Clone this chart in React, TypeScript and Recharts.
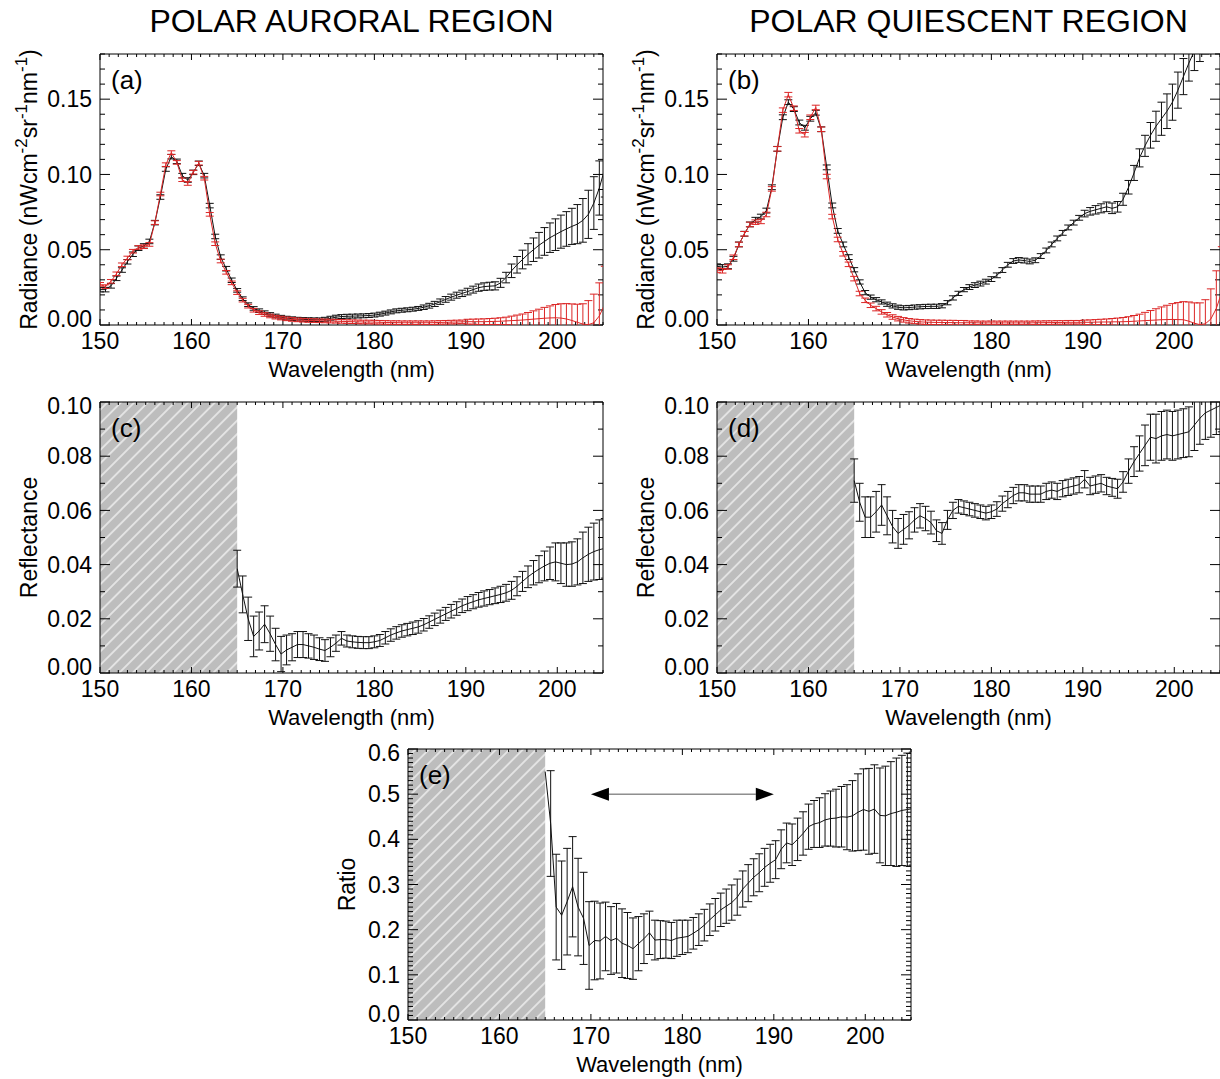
import React from 'react';
import { ComposedChart, Line, XAxis, YAxis, ErrorBar, ReferenceArea, ReferenceLine } from 'recharts';

const FONT = '"Liberation Sans", Arial, Helvetica, sans-serif';

// ---------------- data ----------------
const WAVELENGTHS = [
  150.0, 150.6, 151.2, 151.8, 152.4, 153.0, 153.6, 154.2, 154.8, 155.4,
  156.0, 156.6, 157.2, 157.8, 158.4, 159.0, 159.6, 160.2, 160.8, 161.4,
  162.0, 162.6, 163.2, 163.8, 164.4, 165.0, 165.6, 166.2, 166.8, 167.4,
  168.0, 168.6, 169.2, 169.8, 170.4, 171.0, 171.6, 172.2, 172.8, 173.4,
  174.0, 174.6, 175.2, 175.8, 176.4, 177.0, 177.6, 178.2, 178.8, 179.4,
  180.0, 180.6, 181.2, 181.8, 182.4, 183.0, 183.6, 184.2, 184.8, 185.4,
  186.0, 186.6, 187.2, 187.8, 188.4, 189.0, 189.6, 190.2, 190.8, 191.4,
  192.0, 192.6, 193.2, 193.8, 194.4, 195.0, 195.6, 196.2, 196.8, 197.4,
  198.0, 198.6, 199.2, 199.8, 200.4, 201.0, 201.6, 202.2, 202.8, 203.4,
  204.0, 204.6, 205.2,
];

// (a) polar auroral radiance
const AURORAL_BLACK = [
  0.0235, 0.0235, 0.026, 0.031, 0.0365, 0.042, 0.047, 0.051, 0.0525, 0.0555,
  0.068, 0.085, 0.1036, 0.1118, 0.1087, 0.0992, 0.0963, 0.1014, 0.1074, 0.0992,
  0.0793, 0.0588, 0.0451, 0.0374, 0.0297, 0.023, 0.0175, 0.0135, 0.011, 0.0095,
  0.0082, 0.007, 0.006, 0.0052, 0.0046, 0.0042, 0.0039, 0.0037, 0.0036, 0.0035,
  0.0035, 0.0038, 0.0045, 0.0052, 0.0056, 0.0058, 0.0059, 0.006, 0.0061, 0.0063,
  0.0066, 0.0072, 0.0079, 0.0087, 0.0094, 0.0098, 0.0101, 0.0105, 0.011, 0.0118,
  0.0128, 0.014, 0.0155, 0.017, 0.0185, 0.0198, 0.021, 0.0222, 0.0235, 0.0248,
  0.0255, 0.0258, 0.026, 0.028, 0.0315, 0.036, 0.040, 0.0435, 0.047, 0.050,
  0.053, 0.0555, 0.058, 0.060, 0.062, 0.0638, 0.0655, 0.067, 0.0695, 0.0735,
  0.081, 0.091, 0.104,
];
const AURORAL_BLACK_ERR = [
  0.0015, 0.0015, 0.0015, 0.0015, 0.0015, 0.0015, 0.0015, 0.0015, 0.0015, 0.0015,
  0.0015, 0.0015, 0.0015, 0.0015, 0.0015, 0.0015, 0.0015, 0.0015, 0.0015, 0.0015,
  0.0015, 0.0015, 0.0015, 0.0015, 0.0015, 0.0012, 0.0012, 0.0012, 0.0012, 0.0012,
  0.0012, 0.0012, 0.0012, 0.0012, 0.0012, 0.0012, 0.0012, 0.0012, 0.0012, 0.0012,
  0.0012, 0.0013, 0.0013, 0.0013, 0.0013, 0.0013, 0.0013, 0.0013, 0.0013, 0.0013,
  0.0013, 0.0013, 0.0013, 0.0013, 0.0013, 0.0013, 0.0013, 0.0013, 0.0013, 0.0015,
  0.0016, 0.0017, 0.0018, 0.0019, 0.002, 0.002, 0.0021, 0.0022, 0.0023, 0.0024,
  0.0025, 0.0026, 0.0027, 0.003, 0.0035, 0.0045, 0.0055, 0.0062, 0.007, 0.0078,
  0.0085, 0.0092, 0.0098, 0.0105, 0.011, 0.0115, 0.012, 0.013, 0.0145, 0.016,
  0.0175, 0.018, 0.019,
];
const AURORAL_RED = [
  0.027, 0.0255, 0.029, 0.034, 0.040, 0.0445, 0.049, 0.0515, 0.052, 0.0535,
  0.068, 0.087, 0.1065, 0.1145, 0.108, 0.0965, 0.094, 0.1015, 0.1075, 0.0975,
  0.0735, 0.054, 0.0425, 0.035, 0.028, 0.0215, 0.0165, 0.0125, 0.0098, 0.0082,
  0.007, 0.006, 0.0052, 0.0046, 0.0041, 0.0037, 0.0034, 0.0032, 0.003, 0.0029,
  0.0028, 0.0027, 0.0026, 0.0025, 0.0024, 0.0023, 0.0022, 0.0021, 0.002, 0.002,
  0.0019, 0.0018, 0.0017, 0.0016, 0.0016, 0.0015, 0.0015, 0.0015, 0.0015, 0.0015,
  0.0015, 0.0016, 0.0017, 0.0018, 0.0019, 0.002, 0.0021, 0.0022, 0.0022, 0.0022,
  0.0022, 0.0023, 0.0024, 0.0025, 0.0027, 0.0029, 0.0031, 0.0033, 0.0036, 0.0039,
  0.0042, 0.0045, 0.0047, 0.0048, 0.0046, 0.004, 0.003, 0.0018, 0.0006, 0.0002,
  0.0015, 0.006, 0.014,
];
const AURORAL_RED_ERR = [
  0.0012, 0.0012, 0.0012, 0.0012, 0.0012, 0.0012, 0.0012, 0.0012, 0.0012, 0.0012,
  0.0012, 0.0012, 0.0012, 0.0012, 0.0012, 0.0012, 0.0012, 0.0012, 0.0012, 0.0012,
  0.0012, 0.0012, 0.0012, 0.0012, 0.0012, 0.0012, 0.0012, 0.0012, 0.0012, 0.0012,
  0.0012, 0.0012, 0.0012, 0.0012, 0.0012, 0.0012, 0.0012, 0.0012, 0.0012, 0.0012,
  0.0012, 0.0012, 0.0012, 0.0012, 0.0012, 0.0012, 0.0012, 0.0012, 0.0012, 0.0012,
  0.0012, 0.0012, 0.0012, 0.0012, 0.0012, 0.0012, 0.0012, 0.0012, 0.0012, 0.0012,
  0.0012, 0.0012, 0.0012, 0.0012, 0.0012, 0.0012, 0.0012, 0.0016, 0.0017, 0.0018,
  0.0019, 0.002, 0.0021, 0.0023, 0.0025, 0.003, 0.0035, 0.004, 0.0047, 0.0055,
  0.0063, 0.0072, 0.008, 0.0088, 0.0095, 0.0102, 0.011, 0.012, 0.0135, 0.016,
  0.019, 0.022, 0.025,
];

// (b) polar quiescent radiance
const QUIESCENT_BLACK = [
  0.039, 0.0385, 0.039, 0.044, 0.0535, 0.0606, 0.0668, 0.0699, 0.072, 0.076,
  0.0915, 0.117, 0.138, 0.148, 0.1434, 0.1345, 0.131, 0.137, 0.141, 0.130,
  0.1047, 0.0794, 0.0625, 0.0535, 0.0451, 0.0367, 0.0286, 0.0215, 0.0185, 0.0168,
  0.0153, 0.0138, 0.0127, 0.0118, 0.0114, 0.0116, 0.0119, 0.0121, 0.0123, 0.0124,
  0.0124, 0.0128, 0.0148, 0.018, 0.021, 0.0235, 0.0252, 0.0265, 0.0275, 0.0288,
  0.0305, 0.033, 0.0365, 0.040, 0.0425, 0.0432, 0.0428, 0.0422, 0.043, 0.0458,
  0.0495, 0.0535, 0.0575, 0.0612, 0.0648, 0.068, 0.0712, 0.074, 0.0755, 0.0765,
  0.0775, 0.0785, 0.0775, 0.0785, 0.0835, 0.0915, 0.101, 0.111, 0.119, 0.126,
  0.132, 0.137, 0.142, 0.148, 0.156, 0.165, 0.174, 0.182, 0.189, 0.195,
  0.2, 0.205, 0.21,
];
const QUIESCENT_BLACK_ERR = [
  0.0016, 0.0016, 0.0016, 0.0016, 0.0016, 0.0016, 0.0016, 0.0016, 0.0016, 0.0016,
  0.0016, 0.0016, 0.0016, 0.0016, 0.0016, 0.0016, 0.0016, 0.0016, 0.0016, 0.0016,
  0.0016, 0.0016, 0.0016, 0.0016, 0.0016, 0.0014, 0.0014, 0.0014, 0.0014, 0.0014,
  0.0014, 0.0014, 0.0014, 0.0014, 0.0014, 0.0014, 0.0014, 0.0014, 0.0014, 0.0014,
  0.0014, 0.0014, 0.0014, 0.0014, 0.0014, 0.0014, 0.0016, 0.0016, 0.0016, 0.0016,
  0.0016, 0.0016, 0.0016, 0.0016, 0.0016, 0.0016, 0.0016, 0.0016, 0.0016, 0.0016,
  0.0016, 0.0016, 0.0016, 0.0016, 0.0016, 0.0016, 0.0016, 0.0022, 0.0025, 0.0028,
  0.003, 0.0032, 0.0035, 0.0035, 0.004, 0.0045, 0.005, 0.006, 0.007, 0.0085,
  0.010, 0.011, 0.0115, 0.012, 0.012, 0.012, 0.012, 0.013, 0.014, 0.015,
  0.016, 0.017, 0.018,
];
const QUIESCENT_RED = [
  0.0365, 0.036, 0.0385, 0.045, 0.0535, 0.0606, 0.0668, 0.0683, 0.0688, 0.0734,
  0.0904, 0.117, 0.1427, 0.153, 0.144, 0.129, 0.1264, 0.138, 0.1445, 0.130,
  0.0986, 0.072, 0.0568, 0.0473, 0.0403, 0.0308, 0.0209, 0.0164, 0.0131, 0.0109,
  0.0087, 0.0068, 0.0053, 0.0042, 0.0034, 0.0028, 0.0024, 0.0021, 0.0019, 0.0018,
  0.0017, 0.0017, 0.0016, 0.0016, 0.0015, 0.0015, 0.0015, 0.0015, 0.0014, 0.0014,
  0.0014, 0.0014, 0.0014, 0.0014, 0.0014, 0.0014, 0.0014, 0.0014, 0.0015, 0.0015,
  0.0016, 0.0016, 0.0017, 0.0017, 0.0018, 0.0018, 0.0018, 0.0018, 0.0018, 0.0019,
  0.002, 0.002, 0.0021, 0.0021, 0.0022, 0.0023, 0.0025, 0.0027, 0.0029, 0.0031,
  0.0033, 0.0035, 0.0036, 0.0037, 0.0036, 0.0035, 0.0025, 0.0012, 0.0002, 0.0008,
  0.004, 0.011, 0.022,
];
const QUIESCENT_RED_ERR = [
  0.0015, 0.0015, 0.0015, 0.0015, 0.0015, 0.0015, 0.0015, 0.0015, 0.0015, 0.0015,
  0.0015, 0.0015, 0.0015, 0.0015, 0.0015, 0.0015, 0.0015, 0.0015, 0.0015, 0.0015,
  0.0015, 0.0015, 0.0015, 0.0015, 0.0015, 0.0015, 0.0015, 0.0015, 0.0015, 0.0015,
  0.0015, 0.0015, 0.0015, 0.0015, 0.0015, 0.0015, 0.0015, 0.0015, 0.0015, 0.0015,
  0.0015, 0.0015, 0.0015, 0.0015, 0.0015, 0.0015, 0.0012, 0.0012, 0.0012, 0.0012,
  0.0012, 0.0012, 0.0012, 0.0012, 0.0012, 0.0012, 0.0012, 0.0012, 0.0012, 0.0012,
  0.0012, 0.0012, 0.0012, 0.0012, 0.0012, 0.0012, 0.0012, 0.0015, 0.0016, 0.0017,
  0.0018, 0.002, 0.0022, 0.0025, 0.0028, 0.0032, 0.0038, 0.0045, 0.0055, 0.0065,
  0.0075, 0.0085, 0.0095, 0.0105, 0.0113, 0.012, 0.0128, 0.0135, 0.0145, 0.016,
  0.02, 0.025, 0.03,
];

// (c)-(e) start at 165.0 nm
const REFL_WAVELENGTHS = WAVELENGTHS.slice(25);
const AURORAL_REFL = [
  0.0385, 0.029, 0.020, 0.0135, 0.0155, 0.018, 0.0145, 0.0105, 0.007, 0.0085,
  0.0095, 0.0105, 0.0105, 0.010, 0.0095, 0.0088, 0.0083, 0.0095, 0.011, 0.0128,
  0.0118, 0.0115, 0.0113, 0.0112, 0.0112, 0.0115, 0.012, 0.013, 0.014, 0.0148,
  0.0155, 0.016, 0.0165, 0.017, 0.0178, 0.0188, 0.0198, 0.0208, 0.0218, 0.0228,
  0.0238, 0.0248, 0.0256, 0.0263, 0.027, 0.0275, 0.028, 0.0285, 0.029, 0.0296,
  0.0305, 0.032, 0.0338, 0.0355, 0.037, 0.0383, 0.0395, 0.0405, 0.041, 0.0405,
  0.040, 0.0402, 0.041, 0.0425, 0.0438, 0.0448, 0.0455, 0.046,
];
const AURORAL_REFL_ERR = [
  0.0068, 0.0068, 0.008, 0.0075, 0.007, 0.0068, 0.0065, 0.006, 0.0065, 0.0055,
  0.005, 0.0048, 0.0048, 0.0045, 0.0045, 0.0042, 0.004, 0.0035, 0.003, 0.0025,
  0.0022, 0.0022, 0.0022, 0.0022, 0.0022, 0.0022, 0.0022, 0.0023, 0.0023, 0.0023,
  0.0023, 0.0023, 0.0023, 0.0023, 0.0023, 0.0023, 0.0023, 0.0024, 0.0024, 0.0025,
  0.0025, 0.0025, 0.0026, 0.0026, 0.0027, 0.0028, 0.0028, 0.0029, 0.003, 0.0031,
  0.0033, 0.0035, 0.0037, 0.004, 0.0045, 0.005, 0.0055, 0.006, 0.007, 0.0075,
  0.008, 0.0082, 0.0085, 0.0095, 0.010, 0.0105, 0.011, 0.011,
];
const QUIESCENT_REFL = [
  0.071, 0.063, 0.0575, 0.0575, 0.0595, 0.062, 0.058, 0.054, 0.0515, 0.053,
  0.0545, 0.0565, 0.058, 0.057, 0.0555, 0.0525, 0.0515, 0.0565, 0.060, 0.0615,
  0.061, 0.0605, 0.060, 0.0595, 0.059, 0.0595, 0.0605, 0.0625, 0.064, 0.0655,
  0.0665, 0.0665, 0.066, 0.066, 0.066, 0.067, 0.0675, 0.067, 0.068, 0.0685,
  0.069, 0.0695, 0.0715, 0.069, 0.0695, 0.070, 0.069, 0.0685, 0.068, 0.0705,
  0.0745, 0.078, 0.081, 0.084, 0.087, 0.0865, 0.0875, 0.088, 0.0875, 0.088,
  0.0885, 0.089, 0.0915, 0.094, 0.096, 0.097, 0.098, 0.099,
];
const QUIESCENT_REFL_ERR = [
  0.008, 0.007, 0.0075, 0.0075, 0.0075, 0.0075, 0.007, 0.006, 0.0055, 0.0055,
  0.005, 0.0045, 0.0045, 0.0045, 0.0042, 0.004, 0.004, 0.0035, 0.003, 0.0025,
  0.0025, 0.0025, 0.0025, 0.0025, 0.0025, 0.0025, 0.0027, 0.0028, 0.003, 0.003,
  0.003, 0.003, 0.003, 0.003, 0.003, 0.003, 0.003, 0.003, 0.003, 0.003,
  0.003, 0.003, 0.0032, 0.0032, 0.0032, 0.0032, 0.0032, 0.0033, 0.0035, 0.0038,
  0.0045, 0.0055, 0.0065, 0.0075, 0.0085, 0.009, 0.009, 0.009, 0.009, 0.009,
  0.009, 0.0092, 0.0094, 0.0096, 0.0098, 0.01, 0.01, 0.01,
];
const RATIO = [
  0.55, 0.435, 0.25, 0.232, 0.262, 0.295, 0.25, 0.225, 0.165, 0.176,
  0.175, 0.185, 0.176, 0.181, 0.17, 0.165, 0.158, 0.169, 0.18, 0.193,
  0.177, 0.178, 0.178, 0.176, 0.181, 0.183, 0.185, 0.192, 0.2, 0.21,
  0.222, 0.233, 0.244, 0.252, 0.26, 0.272, 0.29, 0.303, 0.316, 0.326,
  0.338, 0.347, 0.355, 0.378, 0.392, 0.388, 0.4, 0.413, 0.428, 0.434,
  0.437, 0.443, 0.446, 0.447, 0.45, 0.449, 0.452, 0.46, 0.466, 0.462,
  0.467, 0.453, 0.452, 0.457, 0.46, 0.464, 0.466, 0.468,
];
const RATIO_ERR = [
  0, 0.117, 0.117, 0.12, 0.118, 0.111, 0.108, 0.102, 0.097, 0.087,
  0.084, 0.076, 0.075, 0.077, 0.076, 0.073, 0.068, 0.06, 0.055, 0.048,
  0.044, 0.042, 0.041, 0.04, 0.04, 0.038, 0.036, 0.035, 0.035, 0.035,
  0.035, 0.036, 0.037, 0.038, 0.039, 0.04, 0.04, 0.041, 0.041, 0.042,
  0.042, 0.042, 0.042, 0.043, 0.044, 0.046, 0.047, 0.048, 0.05, 0.052,
  0.055, 0.058, 0.061, 0.064, 0.067, 0.072, 0.078, 0.085, 0.09, 0.095,
  0.098, 0.105, 0.11, 0.115, 0.12, 0.122, 0.125, 0.125,
];

// ticks
const X_MAJOR = [150, 160, 170, 180, 190, 200];
const X_TICKS = [
  150, 151, 152, 153, 154, 155, 156, 157, 158, 159, 160, 161, 162, 163, 164, 165, 166, 167, 168, 169,
  170, 171, 172, 173, 174, 175, 176, 177, 178, 179, 180, 181, 182, 183, 184, 185, 186, 187, 188, 189,
  190, 191, 192, 193, 194, 195, 196, 197, 198, 199, 200, 201, 202, 203, 204, 205,
];
const RAD_MAJOR = [0, 0.05, 0.1, 0.15];
const RAD_TICKS = [0, 0.01, 0.02, 0.03, 0.04, 0.05, 0.06, 0.07, 0.08, 0.09, 0.1, 0.11, 0.12, 0.13, 0.14, 0.15, 0.16, 0.17, 0.18];
const REFL_MAJOR = [0, 0.02, 0.04, 0.06, 0.08, 0.1];
const REFL_TICKS = [0, 0.01, 0.02, 0.03, 0.04, 0.05, 0.06, 0.07, 0.08, 0.09, 0.1];
const RATIO_MAJOR = [0, 0.1, 0.2, 0.3, 0.4, 0.5, 0.6];
const RATIO_TICKS = [
  0, 0.01, 0.02, 0.03, 0.04, 0.05, 0.06, 0.07, 0.08, 0.09, 0.1, 0.11, 0.12, 0.13, 0.14, 0.15, 0.16, 0.17, 0.18, 0.19, 0.2,
  0.21, 0.22, 0.23, 0.24, 0.25, 0.26, 0.27, 0.28, 0.29, 0.3, 0.31, 0.32, 0.33, 0.34, 0.35, 0.36, 0.37, 0.38, 0.39, 0.4,
  0.41, 0.42, 0.43, 0.44, 0.45, 0.46, 0.47, 0.48, 0.49, 0.5, 0.51, 0.52, 0.53, 0.54, 0.55, 0.56, 0.57, 0.58, 0.59, 0.6,
];
const ARROW_RANGE = [170, 190];
const ARROW_LEVEL = 0.5;
const HATCH_RANGE = [150, 165];

// tables
const RAD_ROWS = WAVELENGTHS.map((w, i) => ({
  w,
  ab: AURORAL_BLACK[i], abe: AURORAL_BLACK_ERR[i],
  ar: AURORAL_RED[i], are: AURORAL_RED_ERR[i],
  qb: QUIESCENT_BLACK[i], qbe: QUIESCENT_BLACK_ERR[i],
  qr: QUIESCENT_RED[i], qre: QUIESCENT_RED_ERR[i],
}));
const REFL_ROWS = REFL_WAVELENGTHS.map((w, i) => ({
  w,
  ca: AURORAL_REFL[i], cae: AURORAL_REFL_ERR[i],
  cq: QUIESCENT_REFL[i], cqe: QUIESCENT_REFL_ERR[i],
  r: RATIO[i], re: RATIO_ERR[i],
}));

// ---------------- layout ----------------
const PLOT_W = 503;
const PLOT_H = 271;
const M = { top: 60, left: 100, right: 20, bottom: 70 };
const BLACK = '#111';
const RED = '#dc2626';
const X_DOMAIN: [number, number] = [150, 205];
const TICK_FONT = 23;
const HATCH_STEP = 9.5;

const isIn = (v: number, arr: number[]) => arr.some((a) => Math.abs(a - v) < 1e-9);

const xBottomTick = (p: any) => {
  const v = p.payload.value;
  const major = isIn(v, X_MAJOR);
  return (
    <g>
      <line x1={p.x} x2={p.x} y1={p.y} y2={p.y - (major ? 6 : 3)} stroke="#000" strokeWidth={1} />
      {major ? (
        <text x={p.x} y={p.y + 24} textAnchor="middle" fontSize={TICK_FONT} fontFamily={FONT} fill="#000">{v}</text>
      ) : null}
    </g>
  );
};
const xTopTick = (p: any) => {
  const major = isIn(p.payload.value, X_MAJOR);
  return <line x1={p.x} x2={p.x} y1={p.y} y2={p.y + (major ? 6 : 3)} stroke="#000" strokeWidth={1} />;
};
function makeYLeftTick(major: number[], min: number, max: number, digits: number) {
  return (p: any) => {
    const v = p.payload.value;
    const isMajor = isIn(v, major);
    let shift = 0;
    if (Math.abs(v - min) < 1e-9) shift = -6;
    if (Math.abs(v - max) < 1e-9) shift = 4;
    return (
      <g>
        <line x1={p.x} x2={p.x + (isMajor ? 10 : 5)} y1={p.y} y2={p.y} stroke="#000" strokeWidth={1} />
        {isMajor ? (
          <text x={p.x - 8} y={p.y + shift} dy="0.355em" textAnchor="end" fontSize={TICK_FONT} fontFamily={FONT} fill="#000">
            {v.toFixed(digits)}
          </text>
        ) : null}
      </g>
    );
  };
}
function makeYRightTick(major: number[]) {
  return (p: any) => {
    const isMajor = isIn(p.payload.value, major);
    return <line x1={p.x} x2={p.x - (isMajor ? 10 : 5)} y1={p.y} y2={p.y} stroke="#000" strokeWidth={1} />;
  };
}

const arrowShape = (p: any) => {
  const { x1, y1, x2 } = p;
  const L = 18;
  const h = 6.5;
  return (
    <g>
      <line x1={x1 + L} y1={y1} x2={x2 - L} y2={y1} stroke="#555" strokeWidth={1} />
      <polygon points={`${x1},${y1} ${x1 + L},${y1 - h} ${x1 + L},${y1 + h}`} fill="#000" />
      <polygon points={`${x2},${y1} ${x2 - L},${y1 - h} ${x2 - L},${y1 + h}`} fill="#000" />
    </g>
  );
};

type Series = { key: string; errKey: string; color: string };
type PanelOpts = {
  id: string; plotLeft: number; plotTop: number; data: any[];
  yDomain: [number, number]; yMajor: number[]; yTicks: number[]; digits: number;
  series: Series[]; hatch?: boolean; arrow?: boolean;
};

function renderFrame(o: PanelOpts) {
  const W = M.left + PLOT_W + M.right;
  const H = M.top + PLOT_H + M.bottom;
  const margin = { top: M.top - 1, left: M.left - 1, right: M.right - 1, bottom: M.bottom - 1 };
  return (
    <div key={o.id + '-frame'} style={{ position: 'absolute', left: o.plotLeft - M.left, top: o.plotTop - M.top, width: W, height: H }}>
      <ComposedChart width={W} height={H} data={o.data} margin={margin}>
        <XAxis xAxisId="x" dataKey="w" type="number" domain={X_DOMAIN} allowDataOverflow ticks={X_TICKS} interval={0}
          tickSize={0} tickMargin={0} height={1} tickLine={false} axisLine={{ stroke: '#000' }} tick={xBottomTick} />
        <XAxis xAxisId="xt" orientation="top" dataKey="w" type="number" domain={X_DOMAIN} allowDataOverflow ticks={X_TICKS}
          interval={0} tickSize={0} tickMargin={0} height={1} tickLine={false} axisLine={{ stroke: '#000' }} tick={xTopTick} />
        <YAxis yAxisId="y" type="number" domain={o.yDomain} allowDataOverflow ticks={o.yTicks} interval={0}
          tickSize={0} tickMargin={0} width={1} tickLine={false} axisLine={{ stroke: '#000' }}
          tick={makeYLeftTick(o.yMajor, o.yDomain[0], o.yDomain[1], o.digits)} />
        <YAxis yAxisId="yr" orientation="right" type="number" domain={o.yDomain} allowDataOverflow ticks={o.yTicks} interval={0}
          tickSize={0} tickMargin={0} width={1} tickLine={false} axisLine={{ stroke: '#000' }}
          tick={makeYRightTick(o.yMajor)} />
        {o.hatch ? (
          <ReferenceArea xAxisId="x" yAxisId="y" x1={HATCH_RANGE[0]} x2={HATCH_RANGE[1]} fill="url(#hatch)" fillOpacity={1} stroke="none" />
        ) : null}
        {o.arrow ? (
          <ReferenceLine xAxisId="x" yAxisId="y"
            segment={[{ x: ARROW_RANGE[0], y: ARROW_LEVEL }, { x: ARROW_RANGE[1], y: ARROW_LEVEL }]}
            shape={arrowShape} />
        ) : null}
      </ComposedChart>
    </div>
  );
}

function renderData(o: PanelOpts) {
  return (
    <div key={o.id + '-data'} style={{ position: 'absolute', left: o.plotLeft, top: o.plotTop, width: PLOT_W + 1, height: PLOT_H + 1, overflow: 'hidden' }}>
      <ComposedChart width={PLOT_W} height={PLOT_H} data={o.data} margin={{ top: 0, left: 0, right: 0, bottom: 0 }}>
        <XAxis xAxisId="x" dataKey="w" type="number" domain={X_DOMAIN} allowDataOverflow hide height={0} />
        <YAxis yAxisId="y" type="number" domain={o.yDomain} allowDataOverflow hide width={0} />
        {o.series.map((s) => (
          <Line key={s.key} xAxisId="x" yAxisId="y" dataKey={s.key} type="linear" stroke={s.color} strokeWidth={1}
            dot={false} activeDot={false} isAnimationActive={false}>
            <ErrorBar dataKey={s.errKey} width={4} stroke={s.color} strokeWidth={1} direction="y" isAnimationActive={false} />
          </Line>
        ))}
      </ComposedChart>
    </div>
  );
}

function RadianceTitle({ x, cy }: { x: number; cy: number }) {
  return (
    <text transform={`translate(${x},${cy}) rotate(-90)`} textAnchor="middle" fontSize={23}>
      Radiance (nWcm<tspan dy={-10} fontSize={17}>-2</tspan><tspan dy={10}>sr</tspan>
      <tspan dy={-10} fontSize={17}>-1</tspan><tspan dy={10}>nm</tspan>
      <tspan dy={-10} fontSize={17}>-1</tspan><tspan dy={10}>)</tspan>
    </text>
  );
}

export default function App() {
  const A = { left: 100, top: 54 };
  const B = { left: 717, top: 54 };
  const C = { left: 100, top: 402 };
  const D = { left: 717, top: 402 };
  const E = { left: 408, top: 749 };
  const cx = (l: number) => l + PLOT_W / 2;
  const cyp = (t: number) => t + PLOT_H / 2;

  const panels: PanelOpts[] = [
    {
      id: 'a', plotLeft: A.left, plotTop: A.top, data: RAD_ROWS, yDomain: [0, 0.18], yMajor: RAD_MAJOR, yTicks: RAD_TICKS, digits: 2,
      series: [{ key: 'ab', errKey: 'abe', color: BLACK }, { key: 'ar', errKey: 'are', color: RED }],
    },
    {
      id: 'b', plotLeft: B.left, plotTop: B.top, data: RAD_ROWS, yDomain: [0, 0.18], yMajor: RAD_MAJOR, yTicks: RAD_TICKS, digits: 2,
      series: [{ key: 'qb', errKey: 'qbe', color: BLACK }, { key: 'qr', errKey: 'qre', color: RED }],
    },
    {
      id: 'c', plotLeft: C.left, plotTop: C.top, data: REFL_ROWS, yDomain: [0, 0.1], yMajor: REFL_MAJOR, yTicks: REFL_TICKS, digits: 2,
      series: [{ key: 'ca', errKey: 'cae', color: BLACK }], hatch: true,
    },
    {
      id: 'd', plotLeft: D.left, plotTop: D.top, data: REFL_ROWS, yDomain: [0, 0.1], yMajor: REFL_MAJOR, yTicks: REFL_TICKS, digits: 2,
      series: [{ key: 'cq', errKey: 'cqe', color: BLACK }], hatch: true,
    },
    {
      id: 'e', plotLeft: E.left, plotTop: E.top, data: REFL_ROWS, yDomain: [0, 0.6], yMajor: RATIO_MAJOR, yTicks: RATIO_TICKS, digits: 1,
      series: [{ key: 'r', errKey: 're', color: BLACK }], hatch: true, arrow: true,
    },
  ];

  return (
    <div style={{ position: 'absolute', left: 0, top: 0, width: 1220, height: 1079, overflow: 'hidden', background: '#fff' }}>
      <svg width={0} height={0} style={{ position: 'absolute' }}>
        <defs>
          <pattern id="hatch" patternUnits="userSpaceOnUse" width={HATCH_STEP} height={HATCH_STEP} patternTransform="rotate(45)">
            <rect x={0} y={0} width={HATCH_STEP} height={HATCH_STEP} fill="#bdbdbd" />
            <line x1={HATCH_STEP / 2} y1={0} x2={HATCH_STEP / 2} y2={HATCH_STEP} stroke="#ffffff" strokeWidth={1.1} />
          </pattern>
        </defs>
      </svg>
      {panels.map((p) => renderFrame(p))}
      {panels.map((p) => renderData(p))}
      <svg width={1220} height={1079} style={{ position: 'absolute', left: 0, top: 0, pointerEvents: 'none' }} fontFamily={FONT} fill="#000">
        <text x={cx(A.left)} y={32} fontSize={32} textAnchor="middle">POLAR AURORAL REGION</text>
        <text x={cx(B.left)} y={32} fontSize={32} textAnchor="middle">POLAR QUIESCENT REGION</text>
        <text x={A.left + 11} y={A.top + 35} fontSize={26}>(a)</text>
        <text x={B.left + 11} y={B.top + 35} fontSize={26}>(b)</text>
        <text x={C.left + 11} y={C.top + 35} fontSize={26}>(c)</text>
        <text x={D.left + 11} y={D.top + 35} fontSize={26}>(d)</text>
        <text x={E.left + 11} y={E.top + 35} fontSize={26}>(e)</text>
        <text x={cx(A.left)} y={A.top + PLOT_H + 52} fontSize={22} textAnchor="middle">Wavelength (nm)</text>
        <text x={cx(B.left)} y={B.top + PLOT_H + 52} fontSize={22} textAnchor="middle">Wavelength (nm)</text>
        <text x={cx(C.left)} y={C.top + PLOT_H + 52} fontSize={22} textAnchor="middle">Wavelength (nm)</text>
        <text x={cx(D.left)} y={D.top + PLOT_H + 52} fontSize={22} textAnchor="middle">Wavelength (nm)</text>
        <text x={cx(E.left)} y={E.top + PLOT_H + 52} fontSize={22} textAnchor="middle">Wavelength (nm)</text>
        <RadianceTitle x={A.left - 63} cy={cyp(A.top)} />
        <RadianceTitle x={B.left - 63} cy={cyp(B.top)} />
        <text transform={`translate(${C.left - 63},${cyp(C.top)}) rotate(-90)`} textAnchor="middle" fontSize={23}>Reflectance</text>
        <text transform={`translate(${D.left - 63},${cyp(D.top)}) rotate(-90)`} textAnchor="middle" fontSize={23}>Reflectance</text>
        <text transform={`translate(${E.left - 53},${cyp(E.top)}) rotate(-90)`} textAnchor="middle" fontSize={23}>Ratio</text>
      </svg>
    </div>
  );
}
